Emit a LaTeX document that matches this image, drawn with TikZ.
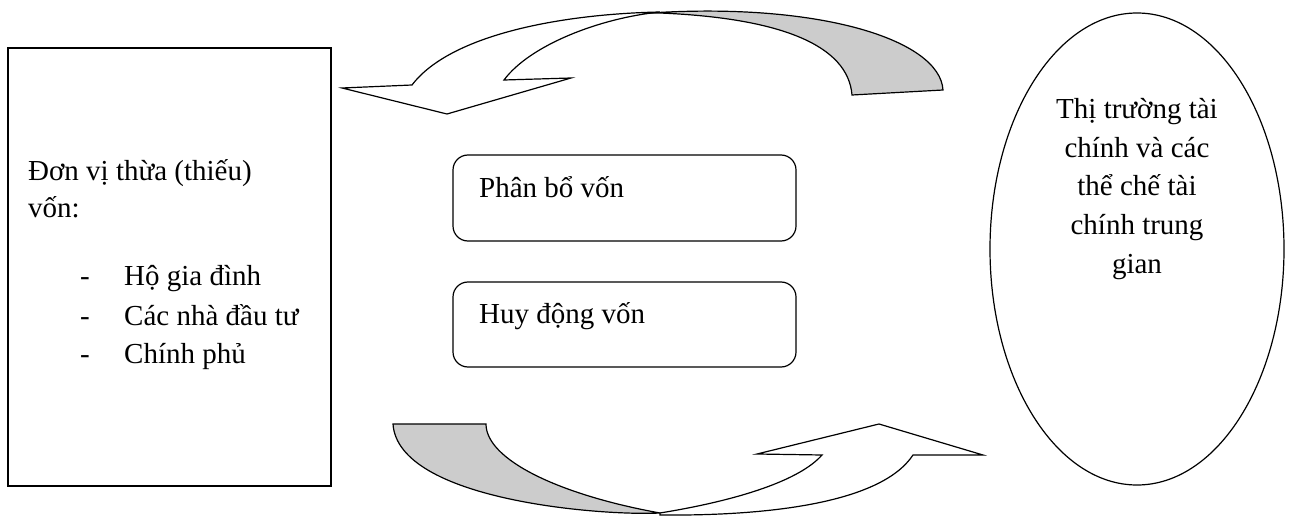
\documentclass[tikz,border=0pt]{standalone}
\usepackage{fontspec}
\setmainfont{Liberation Serif}
\usetikzlibrary{shapes.geometric}
\definecolor{bandgray}{RGB}{204,204,204}
\tikzset{
  x=1pt,y=-1pt,
  outline/.style={draw=black,line width=1.2pt,line join=miter},
  lbl/.style={inner sep=0pt,anchor=base west,font=\fontsize{29}{38.5}\selectfont},
  clbl/.style={inner sep=0pt,anchor=base,font=\fontsize{29}{38.5}\selectfont},
}
\begin{document}
\begin{tikzpicture}
\useasboundingbox (0,0) rectangle (1291,516);
% left box
\node (left) [outline,rectangle,minimum width=323pt,minimum height=438pt,inner sep=0pt] at (169.5,267) {};
\node (l1) [lbl] at (28,180) {Đơn vị thừa (thiếu)};
\node (l2) [lbl] at (28,218) {vốn:};
\node (d1) [lbl] at (80,285) {-};
\node (d2) [lbl] at (80,325) {-};
\node (d3) [lbl] at (80,363) {-};
\node (i1) [lbl] at (124,285) {Hộ gia đình};
\node (i2) [lbl] at (124,325) {Các nhà đầu tư};
\node (i3) [lbl] at (124,363) {Chính phủ};
% middle boxes
\node (alloc) [outline,rectangle,rounded corners=15pt,minimum width=343pt,minimum height=86pt,inner sep=0pt] at (624.5,198) {};
\node (allocT) [lbl] at (479,197) {Phân bổ vốn};
\node (mob) [outline,rectangle,rounded corners=15pt,minimum width=343pt,minimum height=85pt,inner sep=0pt] at (624.5,324.5) {};
\node (mobT) [lbl] at (479,323) {Huy động vốn};
% ellipse
\node (mkt) [outline,ellipse,minimum width=294pt,minimum height=472pt,inner sep=0pt] at (1137,249) {};
\node (m1) [clbl] at (1137,119) {Thị trường tài};
\node (m2) [clbl] at (1137,157.5) {chính và các};
\node (m3) [clbl] at (1137,196) {thể chế tài};
\node (m4) [clbl] at (1137,234.5) {chính trung};
\node (m5) [clbl] at (1137,273) {gian};
% top curved arrow: gray back band
\draw[outline,fill=bandgray] (650,13) .. controls (820,2) and (940,40) .. (943,90)
  -- (852,95) .. controls (848,45) and (780,18) .. (660,13) -- cycle;
% top curved arrow: white front with head
\draw[outline,fill=white] (342,88) -- (447,114) -- (571,78) -- (504,80)
  .. controls (530,45) and (600,18) .. (660,12)
  .. controls (560,14) and (450,35) .. (412,85) -- cycle;
% bottom curved arrow: gray back band
\draw[outline,fill=bandgray] (393,424) -- (486,424)
  .. controls (486,460) and (560,495) .. (660,513)
  .. controls (600,516) and (398,500) .. (393,424) -- cycle;
% bottom curved arrow: white front with head
\draw[outline,fill=white] (660,513) .. controls (740,500) and (800,480) .. (822,455)
  -- (757,454) -- (879,424) -- (983,455) -- (913,455)
  .. controls (880,505) and (760,516) .. (660,515) -- cycle;
\end{tikzpicture}
\end{document}
